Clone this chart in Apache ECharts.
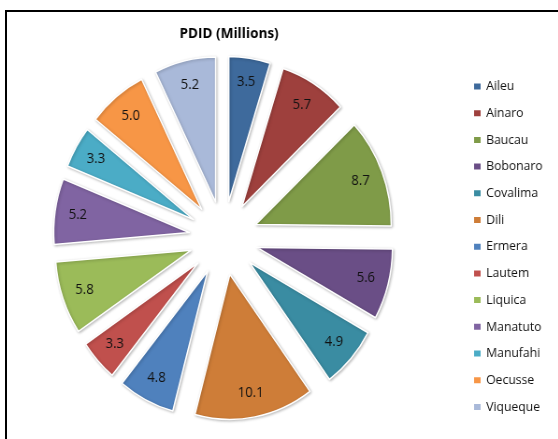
<!DOCTYPE html>
<html>
<head>
<meta charset="utf-8">
<script src="https://cdn.jsdelivr.net/npm/echarts@6/dist/echarts.min.js"></script>
<style>
html, body { margin: 0; padding: 0; background: #fff; overflow: hidden; }
#wrap { position: relative; width: 558px; height: 439px; overflow: hidden; }
/* the source picture is squeezed horizontally, so the chart is drawn wider and scaled */
#main { width: 597px; height: 439px; transform: scaleX(0.935); transform-origin: 0 0; }
#frame { position: absolute; left: 5px; top: 10px; width: 600px; height: 500px; border: 2px solid #000; }
</style>
</head>
<body>
<div id="wrap">
  <div id="main"></div>
  <div id="frame"></div>
</div>
<script>
// districts and PDID values (millions)
const districts = ['Aileu', 'Ainaro', 'Baucau', 'Bobonaro', 'Covalima', 'Dili', 'Ermera',
    'Lautem', 'Liquica', 'Manatuto', 'Manufahi', 'Oecusse', 'Viqueque'];
const pdid = [3.5, 5.7, 8.7, 5.6, 4.9, 10.1, 4.8, 3.3, 5.8, 5.2, 3.3, 5.0, 5.2];
const colors = ['#3E6A9C', '#9E403D', '#7F9B48', '#6A4E86', '#3A8CA2', '#CE7D38', '#4F81BD',
    '#C0504D', '#9BBB59', '#8064A2', '#4BACC6', '#F79646', '#A9B9D9'];

const font = '"Open Sans", "Noto Sans", sans-serif';
const R = 145, OFFSET = 37, LABEL_R = 0.81;
const CENTER = [239, 238];

let slices = districts.map((name, i) => ({ name: name, value: pdid[i], selected: true }));

let chart = echarts.init(document.getElementById('main'));
chart.setOption({
    animation: false,
    color: colors,
    title: {
        text: 'PDID (Millions)',
        left: 240,
        top: 21,
        textAlign: 'center',
        textStyle: { fontFamily: font, fontSize: 14.5, fontWeight: 'bold', color: '#000' }
    },
    legend: {
        orient: 'vertical',
        left: 500,
        top: 75,
        itemWidth: 9,
        itemHeight: 8,
        itemGap: 13.7,
        icon: 'rect',
        data: districts,
        textStyle: { fontFamily: font, fontSize: 13, color: '#111', padding: [0, 0, 0, 0] }
    },
    series: [
        {
            // visible slices
            type: 'pie',
            center: CENTER,
            radius: [0, R],
            startAngle: 90,
            clockwise: true,
            selectedMode: 'multiple',
            selectedOffset: OFFSET,
            avoidLabelOverlap: false,
            label: { show: false },
            labelLine: { show: false },
            itemStyle: {
                borderColor: '#fff',
                borderWidth: 1.5,
                shadowColor: 'rgba(0,0,0,0.25)',
                shadowBlur: 3,
                shadowOffsetX: 1,
                shadowOffsetY: 1
            },
            emphasis: { disabled: true },
            data: slices
        },
        {
            // transparent copy that only carries the value labels
            type: 'pie',
            center: CENTER,
            radius: [0, R * LABEL_R * 2],
            startAngle: 90,
            clockwise: true,
            silent: true,
            selectedMode: 'multiple',
            selectedOffset: OFFSET,
            avoidLabelOverlap: false,
            legendHoverLink: false,
            itemStyle: { color: 'rgba(0,0,0,0)', borderWidth: 0 },
            label: {
                show: true,
                position: 'inside',
                formatter: p => p.value.toFixed(1),
                fontFamily: font,
                fontSize: 14,
                color: '#111'
            },
            labelLine: { show: false },
            emphasis: { disabled: true },
            data: slices.map(s => Object.assign({}, s))
        }
    ]
});
</script>
</body>
</html>
